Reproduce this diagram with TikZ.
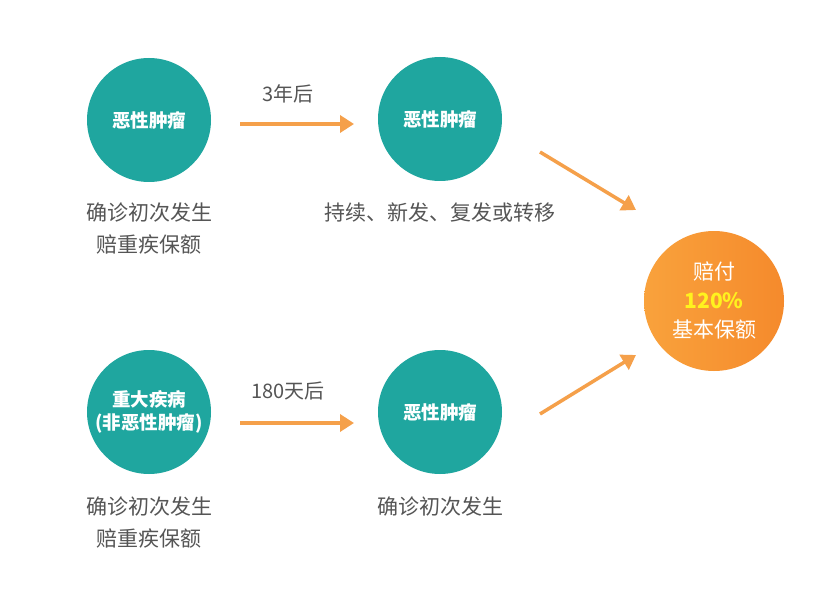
\documentclass[tikz,border=0pt]{standalone}
\usepackage{fontspec}
\setmainfont{Noto Sans CJK SC}
\usetikzlibrary{arrows.meta}
\definecolor{teal1}{HTML}{1FA69F}
\definecolor{arr}{HTML}{F5A04A}
\definecolor{txt}{HTML}{555555}
\definecolor{orA}{HTML}{F9A23C}
\definecolor{orB}{HTML}{F58A2C}
\definecolor{yel}{HTML}{FFF21E}
\begin{document}
\begin{tikzpicture}[x=1pt,y=-1pt,
  tcirc/.style={circle,fill=teal1,minimum size=124pt,inner sep=0pt,text=white,
    font=\fontsize{18.5}{23}\selectfont\bfseries,align=center},
  lbl/.style={text=txt,font=\fontsize{21}{32}\selectfont,align=center,inner sep=0pt},
  alab/.style={text=txt,font=\fontsize{20}{24}\selectfont,inner sep=0pt},
  conn/.style={draw=arr,line width=3.5pt,-{Triangle[length=14pt,width=17pt]}}]
\useasboundingbox (0,0) rectangle (828,591);
\fill[white] (0,0) rectangle (828,591);
\node[tcirc] (c1) at (149,120) {恶性肿瘤};
\node[tcirc] (c2) at (440,119) {恶性肿瘤};
\node[tcirc] (c3) at (149,412) {重大疾病\\(非恶性肿瘤)};
\node[tcirc] (c4) at (440,412) {恶性肿瘤};
\shade[shading angle=135,left color=orA,right color=orB] (714,301) circle (70);
\node[circle,minimum size=140pt,inner sep=0pt,align=center,text=white,
  font=\fontsize{21}{29}\selectfont] (c5) at (714,301)
  {赔付\\{\bfseries\color{yel}120\%}\\基本保额};
\node[lbl] (t1) at (149,229) {确诊初次发生\\赔重疾保额};
\node[lbl] (t2) at (440,213) {持续、新发、复发或转移};
\node[lbl] (t3) at (149,523) {确诊初次发生\\赔重疾保额};
\node[lbl] (t4) at (440,507) {确诊初次发生};
\coordinate (a1s) at (240,124); \coordinate (a1e) at (354,124);
\coordinate (a2s) at (240,423); \coordinate (a2e) at (354,423);
\coordinate (a3s) at (540,152); \coordinate (a3e) at (636,210);
\coordinate (a4s) at (540,414); \coordinate (a4e) at (636,355);
\draw[conn] (a1s) -- (a1e);
\draw[conn] (a2s) -- (a2e);
\draw[conn] (a3s) -- (a3e);
\draw[conn] (a4s) -- (a4e);
\node[alab] (l1) at (288,94) {3年后};
\node[alab] (l2) at (288,391) {180天后};
\end{tikzpicture}
\end{document}
